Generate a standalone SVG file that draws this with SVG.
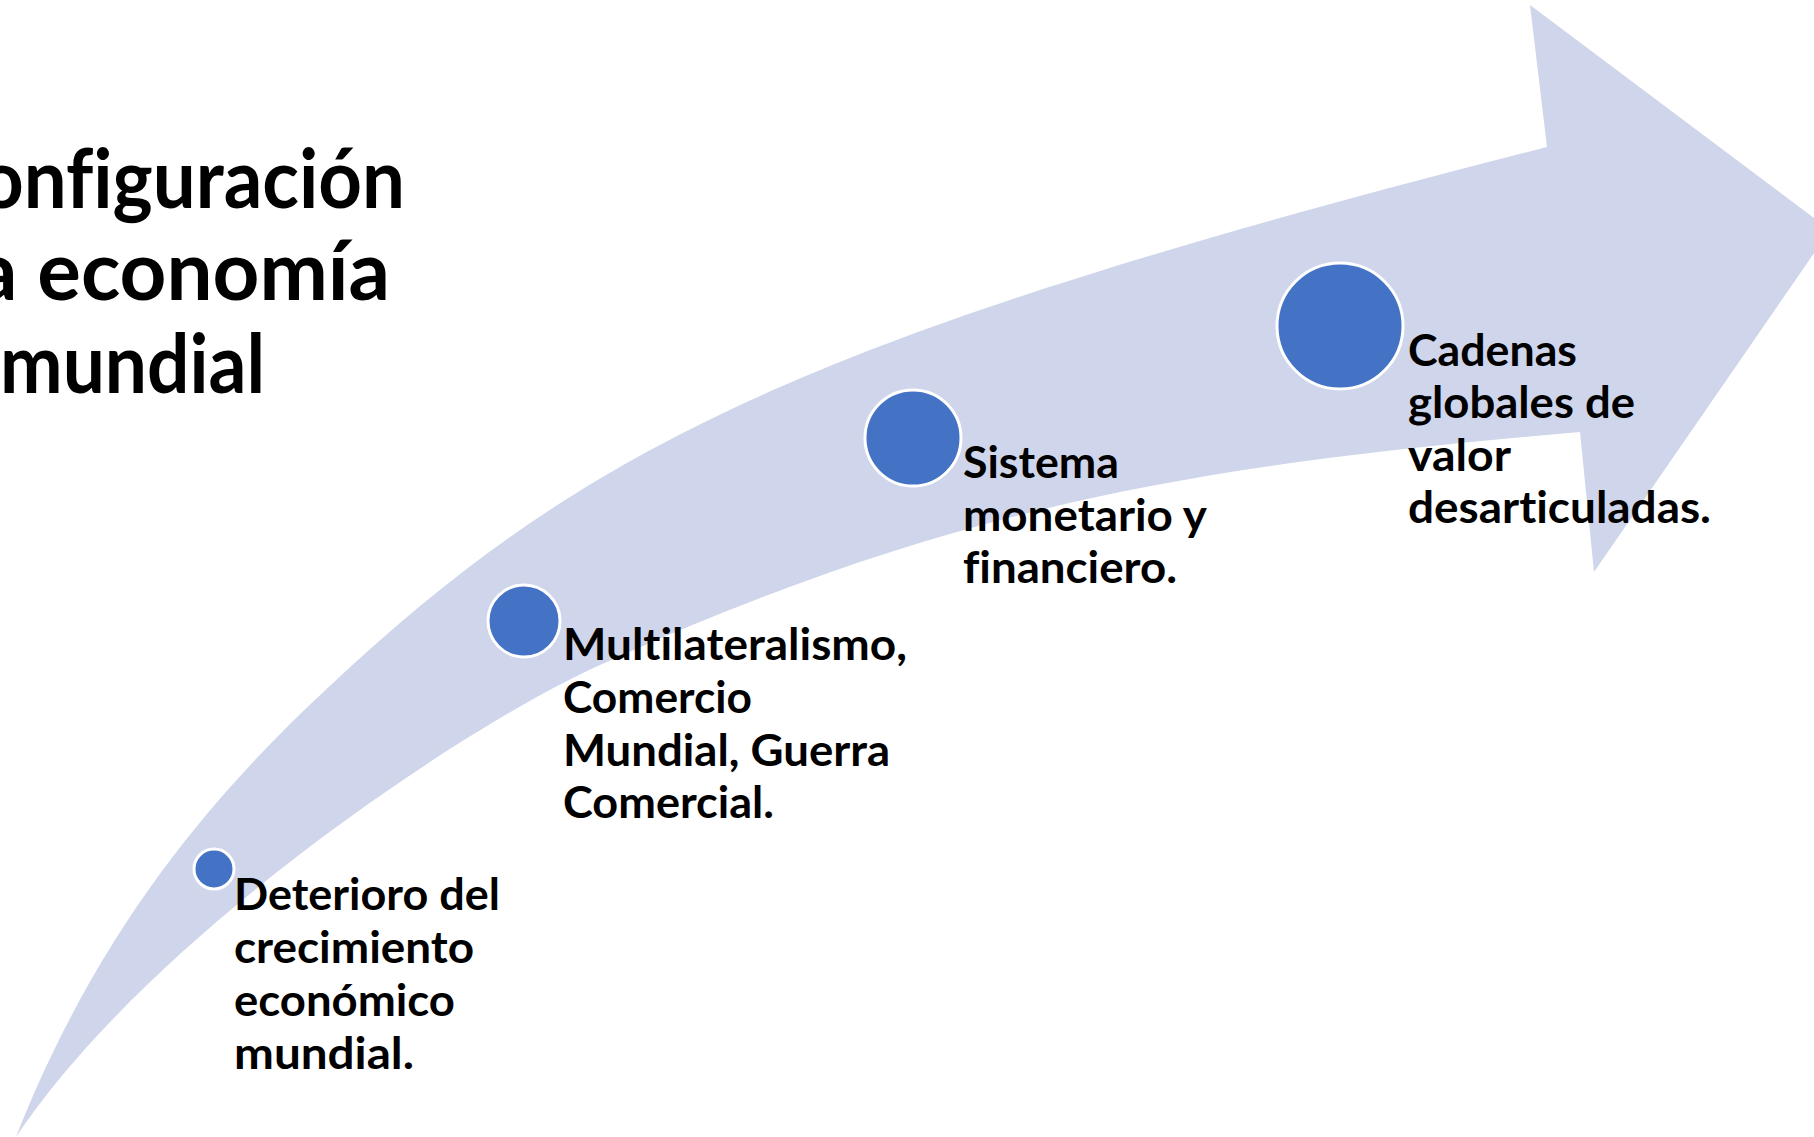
<svg xmlns="http://www.w3.org/2000/svg" width="1814" height="1137" viewBox="0 0 1814 1137">
<style>
  .band { fill: #CFD5EA; }
  .dot { fill: #4472C4; stroke: #FFFFFF; stroke-width: 3; }
  text { font-variant-ligatures: none; font-feature-settings: "liga" 0, "clig" 0, "dlig" 0; }
  .lbl { font-family: Lato, "Open Sans", "Liberation Sans", sans-serif; font-weight: 700; font-size: 43px; fill: #000000; }
  .ttl { font-family: Lato, "Open Sans", "Liberation Sans", sans-serif; font-weight: 700; font-size: 82px; fill: #000000; text-anchor: end; }
</style>
<rect x="0" y="0" width="1814" height="1137" fill="#FFFFFF"/>
<g id="arrow">
  <path class="band" d="M16,1137 C105,910 235,774 333,683 C589.2,444.7 810.6,334.7 1547,147 L1530,5 L1830,230 L1594,572 L1580,432 C1181.6,466 946.6,509.2 600,665 C463.2,726.5 149.2,937.3 16,1137 Z"/>
</g>
<g id="title">
  <text class="ttl" x="405" y="208" textLength="425" lengthAdjust="spacingAndGlyphs">onfiguración</text>
  <text class="ttl" x="390" y="300" textLength="414" lengthAdjust="spacingAndGlyphs">a economía</text>
  <text class="ttl" x="265" y="393" textLength="265" lengthAdjust="spacingAndGlyphs">mundial</text>
</g>
<g id="connectors"></g>
<g id="node1">
  <circle class="dot" cx="214" cy="869" r="20"/>
  <text class="lbl" x="234" y="910" textLength="266" lengthAdjust="spacingAndGlyphs">Deterioro del</text>
  <text class="lbl" x="234" y="963" textLength="240" lengthAdjust="spacingAndGlyphs">crecimiento</text>
  <text class="lbl" x="234" y="1016" textLength="221" lengthAdjust="spacingAndGlyphs">económico</text>
  <text class="lbl" x="234" y="1069" textLength="180" lengthAdjust="spacingAndGlyphs">mundial.</text>
</g>
<g id="node2">
  <circle class="dot" cx="524" cy="621" r="36"/>
  <text class="lbl" x="563" y="660" textLength="344" lengthAdjust="spacingAndGlyphs">Multilateralismo,</text>
  <text class="lbl" x="563" y="713" textLength="189" lengthAdjust="spacingAndGlyphs">Comercio</text>
  <text class="lbl" x="563" y="766" textLength="327" lengthAdjust="spacingAndGlyphs">Mundial, Guerra</text>
  <text class="lbl" x="563" y="818" textLength="211" lengthAdjust="spacingAndGlyphs">Comercial.</text>
</g>
<g id="node3">
  <circle class="dot" cx="913" cy="438" r="48"/>
  <text class="lbl" x="963" y="478" textLength="156" lengthAdjust="spacingAndGlyphs">Sistema</text>
  <text class="lbl" x="963" y="531" textLength="244" lengthAdjust="spacingAndGlyphs">monetario y</text>
  <text class="lbl" x="963" y="583" textLength="214" lengthAdjust="spacingAndGlyphs">financiero.</text>
</g>
<g id="node4">
  <circle class="dot" cx="1340" cy="326" r="63"/>
  <text class="lbl" x="1408" y="366" textLength="169" lengthAdjust="spacingAndGlyphs">Cadenas</text>
  <text class="lbl" x="1408" y="418" textLength="227" lengthAdjust="spacingAndGlyphs">globales de</text>
  <text class="lbl" x="1408" y="471" textLength="103" lengthAdjust="spacingAndGlyphs">valor</text>
  <text class="lbl" x="1408" y="523" textLength="303" lengthAdjust="spacingAndGlyphs">desarticuladas.</text>
</g>
</svg>
